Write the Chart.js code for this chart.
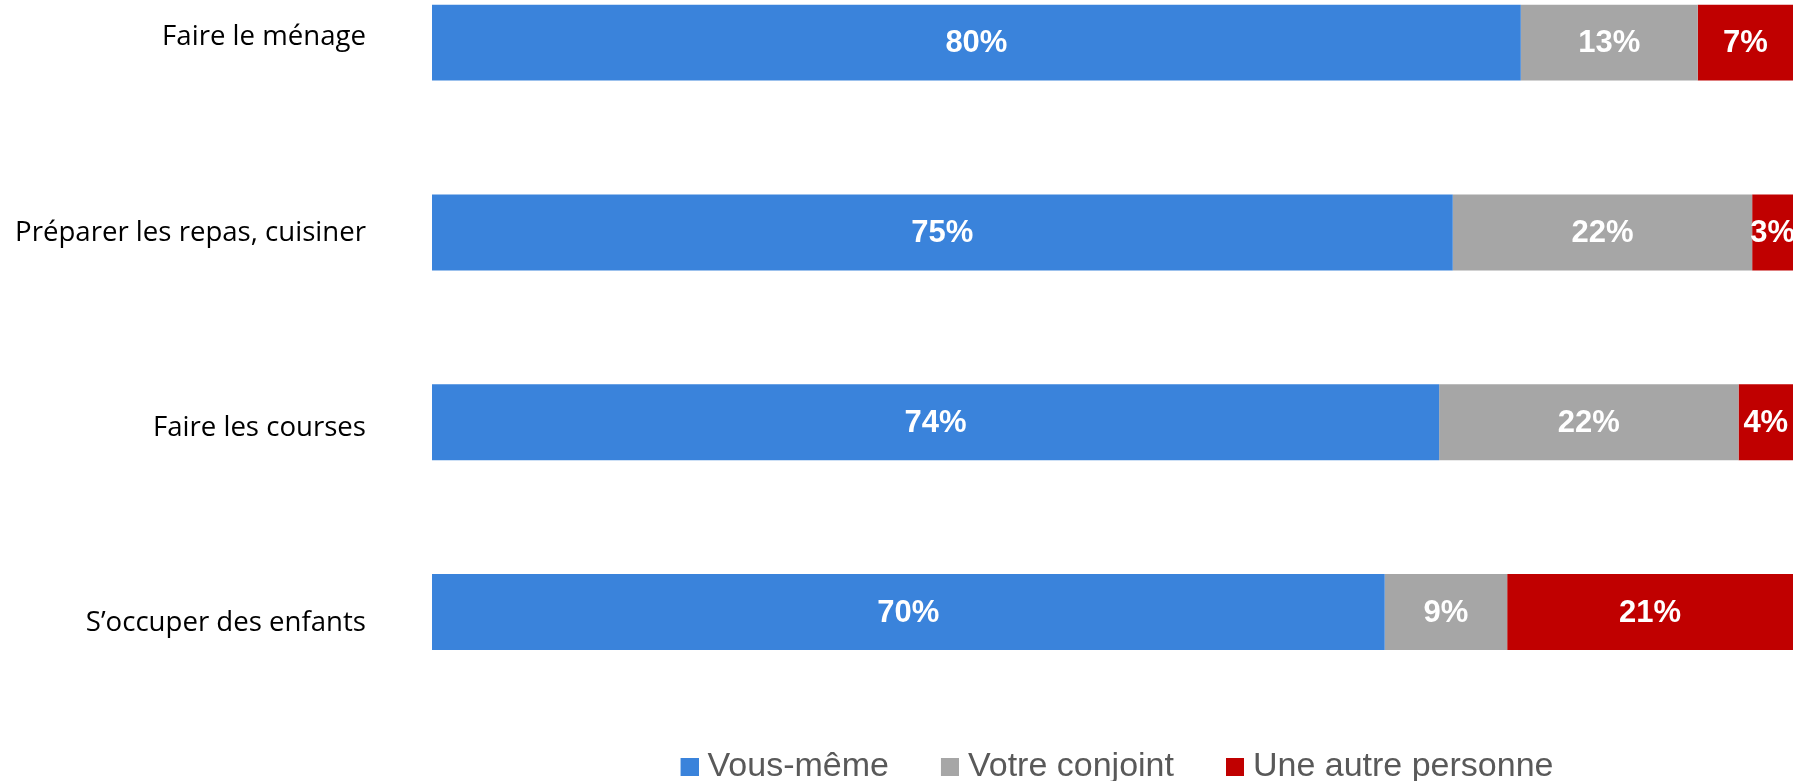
<!DOCTYPE html>
<html>
<head>
<meta charset="utf-8">
<script src="https://cdn.jsdelivr.net/npm/chart.js@4"></script>
<style>
  html, body { margin: 0; padding: 0; background: #fff; overflow: hidden; }
  #wrap { position: absolute; left: 0; top: -53px; width: 1796px; height: 847px; }
</style>
</head>
<body>
<div id="wrap"><canvas id="barChartCanvas"></canvas></div>
<script>
const categories = ['Faire le ménage', 'Préparer les repas, cuisiner', 'Faire les courses', 'S\u2019occuper des enfants'];
const seriesNames = ['Vous-même', 'Votre conjoint', 'Une autre personne'];
const vousMeme = [80, 75, 74, 70];
const conjoint = [13, 22, 22, 9];
const autre = [7, 3, 4, 21];
const colors = ['#3A83DB', '#A6A6A6', '#C00000'];

// petit carré de légende collé au texte (image plus large que la boîte)
function makeMarker(color) {
    const c = document.createElement('canvas');
    c.width = 35;
    c.height = 18;
    const g = c.getContext('2d');
    g.fillStyle = color;
    g.fillRect(17, 0, 18, 18);
    return c;
}
const markers = colors.map(makeMarker);

// etiquettes blanches au centre de chaque segment
const segmentLabels = {
    id: 'segmentLabels',
    afterDatasetsDraw(chart) {
        const ctx = chart.ctx;
        ctx.save();
        ctx.fillStyle = '#fff';
        ctx.font = 'bold 31px "Liberation Sans", Arial, sans-serif';
        ctx.textAlign = 'center';
        ctx.textBaseline = 'middle';
        chart.data.datasets.forEach((ds, i) => {
            chart.getDatasetMeta(i).data.forEach((bar, j) => {
                const x = (bar.x + bar.base) / 2;
                ctx.fillText(ds.data[j] + '%', x, bar.y + 1);
            });
        });
        ctx.restore();
    }
};

const ctx = document.getElementById('barChartCanvas').getContext('2d');
new Chart(ctx, {
    type: 'bar',
    data: {
        labels: categories,
        datasets: [
            { label: seriesNames[0], data: vousMeme, backgroundColor: colors[0] },
            { label: seriesNames[1], data: conjoint, backgroundColor: colors[1] },
            { label: seriesNames[2], data: autre, backgroundColor: colors[2] }
        ]
    },
    options: {
        indexAxis: 'y',
        responsive: true,
        maintainAspectRatio: false,
        animation: false,
        categoryPercentage: 1,
        barPercentage: 0.4,
        layout: {
            padding: { left: 0, right: 3, top: 0, bottom: 0 }
        },
        scales: {
            x: {
                stacked: true,
                display: false,
                min: 0,
                max: 100
            },
            y: {
                stacked: true,
                display: false
            },
            // axe des libellés : un peu plus espacé que les barres, comme dans l'original
            yLabels: {
                type: 'linear',
                position: 'left',
                reverse: true,
                offset: false,
                bounds: 'data',
                min: -0.46,
                max: 3.43,
                grid: { display: false, drawTicks: true, tickLength: 66 },
                border: { display: false },
                afterBuildTicks: function(scale) {
                    scale.ticks = categories.map((c, i) => ({ value: i }));
                },
                ticks: {
                    color: '#000',
                    padding: 0,
                    font: { family: '"Open Sans", sans-serif', size: 27.6, lineHeight: 0.05 },
                    callback: function(value) {
                        return categories[value] || '';
                    }
                },
                afterFit: function(scale) {
                    scale.width = 432;
                }
            }
        },
        plugins: {
            tooltip: { enabled: false },
            legend: {
                position: 'bottom',
                fullSize: false,
                labels: {
                    usePointStyle: true,
                    pointStyleWidth: 19,
                    boxHeight: 18,
                    padding: 43,
                    color: '#595959',
                    font: { family: '"Liberation Sans", Arial, sans-serif', size: 34 },
                    generateLabels: function(chart) {
                        const items = Chart.defaults.plugins.legend.labels.generateLabels(chart);
                        items.forEach((item, i) => { item.pointStyle = markers[i]; });
                        return items;
                    }
                }
            }
        }
    },
    plugins: [segmentLabels]
});
</script>
</body>
</html>
